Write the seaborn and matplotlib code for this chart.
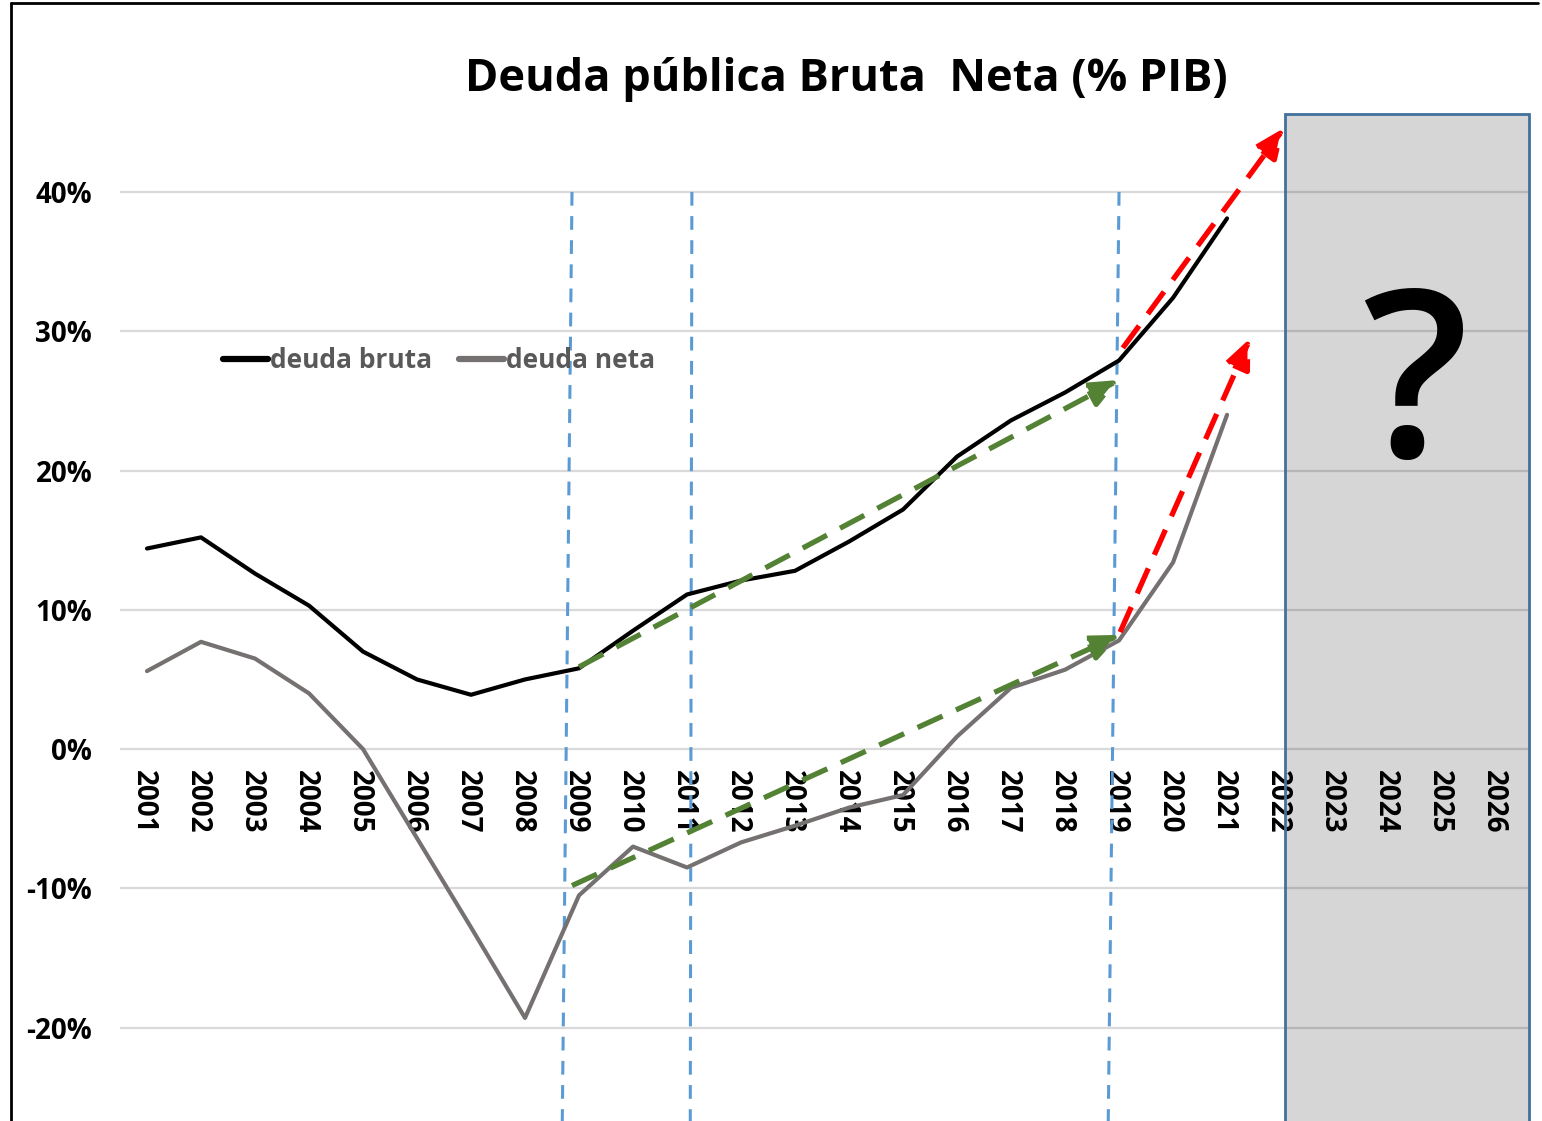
import numpy as np
import pandas as pd
import matplotlib
matplotlib.use("Agg")
import matplotlib.pyplot as plt
import matplotlib.transforms as mtransforms
import seaborn as sns
from matplotlib.patches import Rectangle
from matplotlib.lines import Line2D

years = list(range(2001, 2027))
data_years = list(range(2001, 2022))
deuda_bruta = [14.4, 15.2, 12.6, 10.3, 7.0, 5.0, 3.9, 5.0, 5.8, 8.5, 11.1,
               12.1, 12.8, 14.9, 17.2, 21.0, 23.6, 25.6, 27.9, 32.4, 38.1]
deuda_neta = [5.6, 7.7, 6.5, 4.0, 0.0, -6.4, -12.8, -19.3, -10.5, -7.0, -8.5,
              -6.7, -5.5, -4.2, -3.3, 0.9, 4.4, 5.7, 7.8, 13.4, 24.0]
yticks = [-20, -10, 0, 10, 20, 30, 40]

# trend arrows (start year, start %, end year, end %)
green_arrows = [(2009.0, 5.9, 2019.0, 26.5), (2008.87, -9.8, 2019.02, 8.2)]
red_arrows = [(2019.07, 28.8, 2022.06, 44.6), (2019.02, 8.4, 2021.43, 29.5)]
# vertical dashed markers (x top, x bottom)
vlines = [(2008.87, 2008.69), (2011.09, 2011.06), (2019.0, 2018.8)]

df = pd.DataFrame({"year": data_years, "deuda bruta": deuda_bruta,
                   "deuda neta": deuda_neta})
df = df.melt(id_vars="year", var_name="serie", value_name="pct")

sns.set_theme(style="white")
plt.rcParams["font.family"] = ["Open Sans", "DejaVu Sans"]

fig = plt.figure(figsize=(15.42, 11.21), dpi=100)
ax = fig.add_axes([120 / 1542, 0, 1410 / 1542, 1021 / 1121])

ymin, ymax = -26.7, 46.6

for y in yticks:
    ax.axhline(y, color="#d9d9d9", lw=1.6, zorder=0.5)

sns.lineplot(data=df, x="year", y="pct", hue="serie",
             palette={"deuda bruta": "#000000", "deuda neta": "#767171"},
             lw=3.0, ax=ax, legend=False, zorder=3)

for xt, xb in vlines:
    ax.plot([xt, xb], [40, ymin], color="#5b9bd5", lw=2.2,
            linestyle=(0, (4.5, 3.4)), zorder=2, clip_on=False)

for arrows, col in [(green_arrows, "#548235"), (red_arrows, "#ff0000")]:
    for x0, y0, x1, y1 in arrows:
        ax.annotate("", xy=(x1, y1), xytext=(x0, y0),
                    arrowprops=dict(arrowstyle="-|>,head_length=1.5,head_width=0.65",
                                    color=col, lw=3.8, linestyle=(0, (5.2, 2.8)),
                                    shrinkA=0, shrinkB=0, capstyle="butt"),
                    zorder=4, annotation_clip=False)

ax.spines["bottom"].set_position(("data", 0))
for s in ax.spines.values():
    s.set_visible(False)
ax.set_xlim(2000.5, 2026.61)
ax.set_ylim(ymin, ymax)
ax.set_yticks(yticks)
ax.set_yticklabels([f"{y}%" for y in yticks], fontsize=20, fontweight="bold")
ax.set_xticks(years)
ax.set_xticklabels([str(y) for y in years], rotation=-90, fontsize=20,
                   fontweight="bold", va="top", ha="center")
ax.tick_params(axis="y", length=0, pad=20, labelcolor="black")
ax.tick_params(axis="x", length=0, pad=15, labelcolor="black")
shift = mtransforms.ScaledTranslation(-0.04, 0, fig.dpi_scale_trans)
for lbl in ax.get_xticklabels():
    lbl.set_transform(lbl.get_transform() + shift)
ax.set_xlabel("")
ax.set_ylabel("")

# forecast box
ax.add_patch(Rectangle((2022.07, ymin - 1), 2026.6 - 2022.07, 45.6 - ymin + 1,
                       facecolor=(0, 0, 0, 0.16), edgecolor="#41719c", lw=2,
                       zorder=5, clip_on=False))
ax.text(2024.48, 21.0, "?", fontsize=168, fontweight="semibold",
        ha="center", va="baseline", color="black", zorder=6)

handles = [Line2D([], [], color="#000000", lw=4.5),
           Line2D([], [], color="#767171", lw=4.5)]
leg = ax.legend(handles, ["deuda bruta", "deuda neta"], loc="center left",
                bbox_to_anchor=((199 - 120) / 1410, (1121 - 361) / 1021),
                ncol=2, frameon=False, handlelength=1.7, handletextpad=0.1,
                columnspacing=1.0, prop={"size": 19, "weight": "bold"})
for t in leg.get_texts():
    t.set_color("#595959")

fig.text(846 / 1542, 1 - 80 / 1121, "Deuda pública Bruta  Neta (% PIB)",
         fontsize=32.5, fontweight="bold", ha="center", va="center",
         color="black")

# outer chart frame (left and top edges visible)
fig.add_artist(Line2D([11 / 1542, 11 / 1542], [0, 1 - 3 / 1121],
                      color="black", lw=2, transform=fig.transFigure))
fig.add_artist(Line2D([11 / 1542, 1538 / 1542], [1 - 3 / 1121, 1 - 3 / 1121],
                      color="black", lw=2, transform=fig.transFigure))

fig.savefig("out.png", dpi=100, facecolor="white")
